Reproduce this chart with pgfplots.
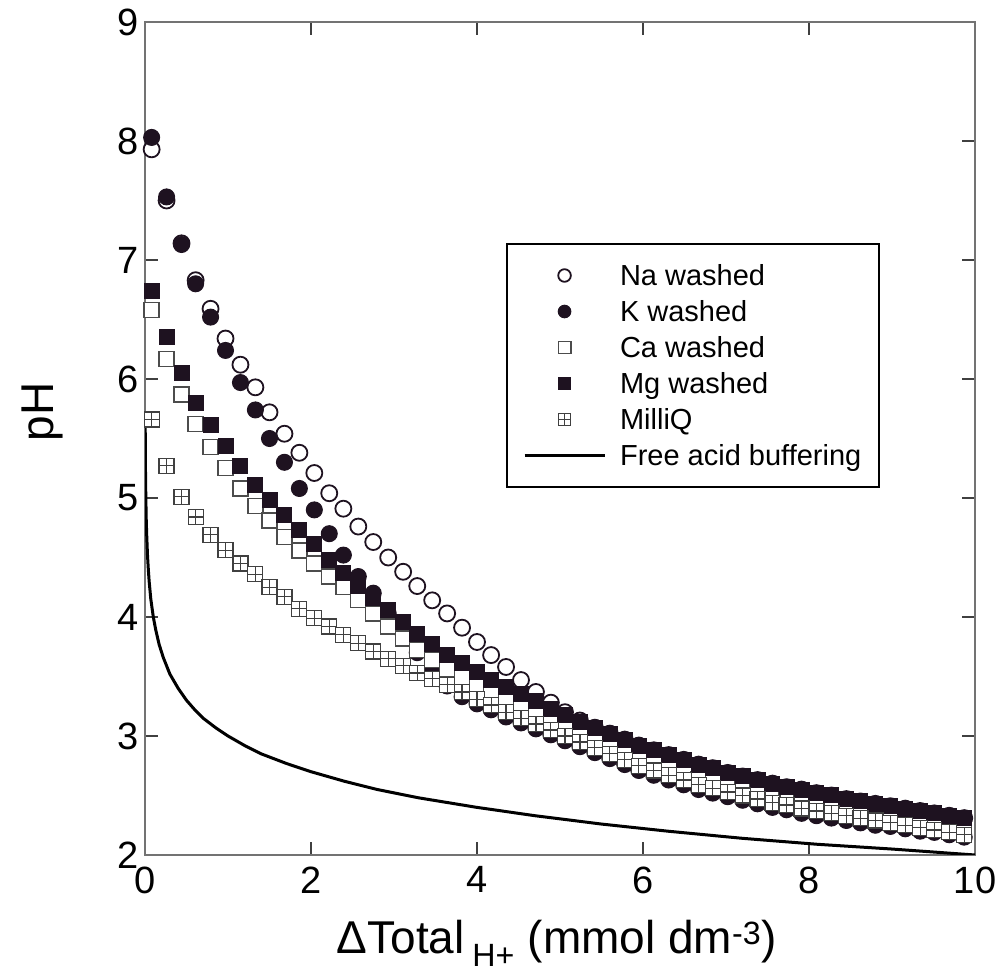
\documentclass[border=0pt]{standalone}
\usepackage{fontspec}
\setmainfont{Liberation Sans}
\usepackage{pgfplots}
\usepackage{pgfplotstable}
\pgfplotsset{compat=1.18}
\definecolor{mk}{RGB}{30,18,32}
\pgfdeclareplotmark{boxplus}{%
  \pgfpathrectangle{\pgfqpoint{-\pgfplotmarksize}{-\pgfplotmarksize}}{\pgfqpoint{2\pgfplotmarksize}{2\pgfplotmarksize}}%
  \pgfusepathqfillstroke
  \pgfpathmoveto{\pgfqpoint{-\pgfplotmarksize}{0pt}}\pgfpathlineto{\pgfqpoint{\pgfplotmarksize}{0pt}}%
  \pgfpathmoveto{\pgfqpoint{0pt}{-\pgfplotmarksize}}\pgfpathlineto{\pgfqpoint{0pt}{\pgfplotmarksize}}%
  \pgfusepathqstroke}

\pgfplotstableread{
x    na   k    ca   mg   mq
0.08 7.93 8.03 6.58 6.74 5.66
0.26 7.50 7.53 6.17 6.35 5.27
0.44 7.14 7.13 5.87 6.05 5.01
0.61 6.83 6.80 5.62 5.80 4.84
0.79 6.59 6.52 5.43 5.61 4.69
0.97 6.34 6.24 5.25 5.44 4.56
1.15 6.12 5.97 5.08 5.27 4.45
1.33 5.93 5.74 4.93 5.11 4.36
1.50 5.72 5.50 4.81 4.98 4.25
1.68 5.54 5.30 4.67 4.86 4.17
1.86 5.38 5.08 4.56 4.73 4.07
2.04 5.21 4.90 4.45 4.61 3.99
2.22 5.04 4.70 4.34 4.48 3.92
2.39 4.91 4.52 4.25 4.37 3.85
2.57 4.76 4.34 4.14 4.26 3.78
2.75 4.63 4.20 4.03 4.16 3.71
2.93 4.50 4.03 3.92 4.06 3.65
3.11 4.38 3.86 3.82 3.96 3.59
3.28 4.26 3.70 3.72 3.86 3.53
3.46 4.14 3.55 3.64 3.77 3.48
3.64 4.03 3.42 3.56 3.68 3.43
3.82 3.91 3.33 3.49 3.61 3.37
4.00 3.79 3.27 3.42 3.54 3.31
4.17 3.68 3.22 3.36 3.47 3.26
4.35 3.58 3.16 3.29 3.41 3.20
4.53 3.47 3.11 3.23 3.35 3.15
4.71 3.37 3.06 3.18 3.29 3.10
4.89 3.28 3.01 3.12 3.23 3.05
5.06 3.20 2.96 3.07 3.18 3.00
5.24 3.13 2.91 3.01 3.12 2.95
5.42 3.07 2.86 2.96 3.07 2.90
5.60 3.02 2.81 2.91 3.02 2.85
5.78 2.97 2.76 2.86 2.97 2.80
5.95 2.92 2.71 2.81 2.92 2.75
6.13 2.88 2.67 2.76 2.88 2.71
6.31 2.84 2.63 2.72 2.84 2.67
6.49 2.80 2.59 2.68 2.80 2.63
6.67 2.76 2.55 2.64 2.76 2.59
6.84 2.73 2.52 2.61 2.73 2.56
7.02 2.69 2.49 2.58 2.69 2.53
7.20 2.66 2.46 2.55 2.66 2.50
7.38 2.63 2.43 2.52 2.63 2.47
7.56 2.60 2.40 2.49 2.60 2.44
7.73 2.57 2.38 2.46 2.57 2.42
7.91 2.55 2.35 2.44 2.55 2.39
8.09 2.52 2.33 2.41 2.52 2.37
8.27 2.50 2.31 2.39 2.50 2.35
8.45 2.47 2.29 2.37 2.47 2.33
8.62 2.45 2.27 2.35 2.45 2.31
8.80 2.43 2.25 2.33 2.43 2.29
8.98 2.41 2.24 2.31 2.41 2.27
9.16 2.39 2.22 2.29 2.39 2.25
9.34 2.37 2.20 2.27 2.37 2.23
9.51 2.35 2.19 2.25 2.35 2.21
9.69 2.33 2.17 2.23 2.33 2.19
9.87 2.31 2.15 2.21 2.31 2.17
}\data

\pgfplotstableread{
x     y
0.002 5.70
0.004 5.40
0.006 5.22
0.01  5.00
0.015 4.82
0.02  4.70
0.03  4.52
0.04  4.40
0.05  4.30
0.07  4.15
0.10  4.00
0.13  3.89
0.17  3.77
0.22  3.66
0.30  3.52
0.40  3.40
0.50  3.30
0.60  3.22
0.70  3.15
0.85  3.07
1.00  3.00
1.20  2.92
1.40  2.85
1.70  2.77
2.00  2.70
2.40  2.62
2.80  2.55
3.30  2.48
4.00  2.40
4.70  2.33
5.50  2.26
6.30  2.20
7.20  2.14
8.10  2.09
9.00  2.05
10.0  2.00
}\freeacid

\begin{document}
\begin{tikzpicture}[x=1pt,y=1pt]
\useasboundingbox (0,0) rectangle (996,976);
\begin{axis}[
  at={(145pt,121pt)}, anchor=south west,
  width=830pt, height=833pt, scale only axis,
  xmin=0, xmax=10, ymin=2, ymax=9,
  xtick={0,2,...,10}, ytick={2,3,...,9},
  tick align=inside,
  major tick length=13pt,
  tick style={line width=1.5pt, color=black!75},
  axis line style={line width=2pt, color=black!55},
  /pgf/number format/assume math mode=true,
  tick label style={font=\fontsize{38}{44}\selectfont},
  xticklabel style={yshift=-8pt},
  yticklabel style={xshift=-3pt},
  label style={font=\fontsize{46}{52}\selectfont},
  xlabel={ΔTotal\,\textsubscript{H+} (mmol dm\textsuperscript{-3})},
  ylabel={pH},
  xlabel style={at={(axis description cs:0.496,-0.106)}, anchor=center},
  ylabel style={at={(axis description cs:-0.124,0.532)}, anchor=center},
  legend cell align=left,
  legend image code/.code={\draw[mark repeat=2,mark phase=2,#1,mark size=6.3pt] plot coordinates {(0pt,0pt) (40pt,0pt) (80pt,0pt)};},
  legend style={at={(0.435,0.735)}, anchor=north west, draw=black, line width=2pt,
    font=\fontsize{29}{32}\selectfont, inner xsep=16pt, inner ysep=18.5pt,
    row sep=9.5pt, column sep=12pt},
]
\addplot[only marks, mark=*, mark size=8pt, mark options={draw=mk, fill=white, line width=1.8pt}] table[x=x,y=na]{\data};
\addlegendentry{Na washed}
\addplot[only marks, mark=*, mark size=8pt, mark options={draw=mk, fill=mk, line width=1pt}] table[x=x,y=k]{\data};
\addlegendentry{K washed}
\addplot[only marks, mark=square*, mark size=7.5pt, mark options={draw=black!70, fill=white, line width=1.3pt}] table[x=x,y=ca]{\data};
\addlegendentry{Ca washed}
\addplot[only marks, mark=square*, mark size=7.5pt, mark options={draw=mk, fill=mk, line width=1pt}] table[x=x,y=mg]{\data};
\addlegendentry{Mg washed}
\addplot[only marks, mark=boxplus, mark size=7.5pt, mark options={draw=black!75, fill=white, line width=1.2pt}] table[x=x,y=mq]{\data};
\addlegendentry{MilliQ}
\addplot[no marks, line width=3pt, color=black] table[x=x,y=y]{\freeacid};
\addlegendentry{Free acid buffering}
\end{axis}
\end{tikzpicture}
\end{document}
